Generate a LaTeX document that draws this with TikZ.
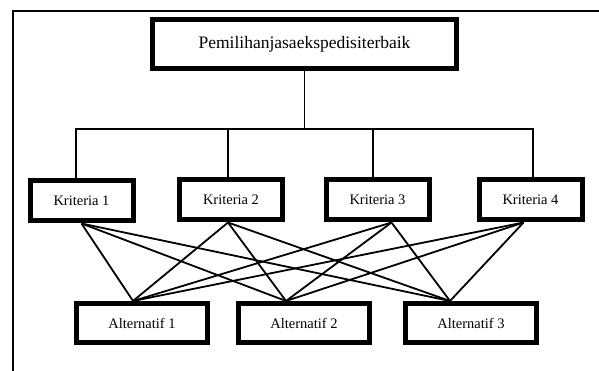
\documentclass[tikz,border=0pt]{standalone}
\usepackage{fontspec}
\setmainfont{Liberation Serif}

\begin{document}
\begin{tikzpicture}[x=1pt,y=-1pt]
	\tikzset{kotak/.style={draw,line width=5pt,inner sep=0pt,font=\fontsize{14.5}{17}\selectfont}}
	\tikzset{kriteria/.style={kotak,minimum width=103pt,minimum height=40pt}}
	\tikzset{alternatif/.style={kotak,minimum width=131pt,minimum height=39pt}}
	\tikzset{cabang/.style={line width=1.3pt}}
	\tikzset{silang/.style={line width=1.8pt}}
	\useasboundingbox (0,0) rectangle (599,371);
	\draw[line width=2.5pt] (13,371) -- (13,11) -- (599,11);
	\node[kotak,minimum width=304pt,minimum height=49pt,font=\fontsize{17.5}{20}\selectfont] (tujuan) at (304.5,44) {Pemilihanjasaekspedisiterbaik};
	\node[kriteria] (K1) at (81.5,201) {Kriteria 1};
	\node[kriteria] (K2) at (231,200) {Kriteria 2};
	\node[kriteria] (K3) at (377.5,200) {Kriteria 3};
	\node[kriteria] (K4) at (530.5,200) {Kriteria 4};
	\node[alternatif] (A1) at (142,323) {Alternatif 1};
	\node[alternatif] (A2) at (304,323) {Alternatif 2};
	\node[alternatif] (A3) at (471,323) {Alternatif 3};
	% tujuan ke kriteria
	\coordinate (bus) at (0,129);
	\draw[cabang] (tujuan.south) -- (tujuan.south |- bus);
	\draw[cabang] ([xshift=-5.5pt]K1.north) |- ([xshift=2.5pt]K4.north |- bus) -- ([xshift=2.5pt]K4.north);
	\foreach \k/\s in {K2/-3,K3/-4.5}
		\draw[cabang] ([xshift=\s pt]\k.north) -- ([xshift=\s pt]\k.north |- bus);
	% kriteria ke alternatif
	\foreach \k/\ks in {K1/0,K2/-3,K3/14,K4/-7}
		\foreach \a/\as in {A1/-9,A2/-18,A3/-21}
			\draw[silang] ([xshift=\ks pt]\k.south) -- ([xshift=\as pt]\a.north);
\end{tikzpicture}
\end{document}
